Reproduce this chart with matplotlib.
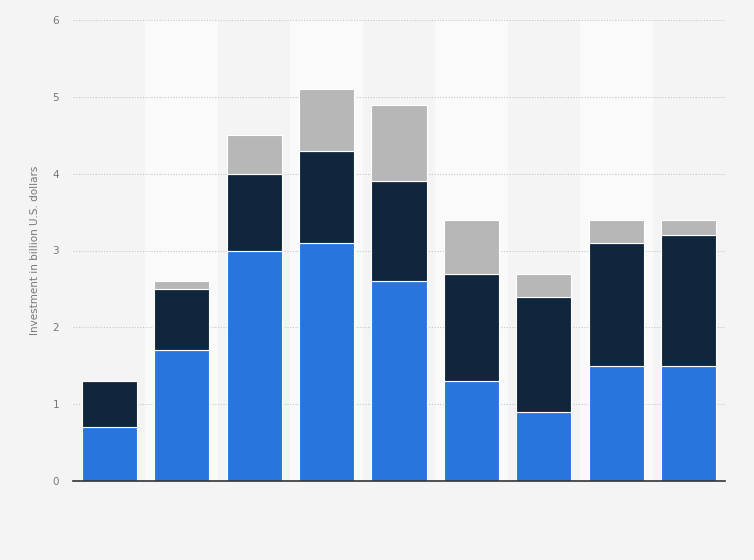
import matplotlib.pyplot as plt
import numpy as np

# values in billion U.S. dollars
years = ["", "", "", "", "", "", "", "", ""]
series_a = [0.7, 1.7, 3.0, 3.1, 2.6, 1.3, 0.9, 1.5, 1.5]
series_b = [0.6, 0.8, 1.0, 1.2, 1.3, 1.4, 1.5, 1.6, 1.7]
series_c = [0.0, 0.1, 0.5, 0.8, 1.0, 0.7, 0.3, 0.3, 0.2]

colors = ["#2876dd", "#10263d", "#b7b7b7"]

fig = plt.figure(figsize=(7.54, 5.6), dpi=100)
fig.patch.set_facecolor("#f4f4f4")
ax = fig.add_axes([73 / 754, 79 / 560, 652 / 754, 461 / 560])
ax.set_facecolor("#f4f4f4")

x = np.arange(len(series_a))

# alternating column bands
for i in x:
    if i % 2 == 1:
        ax.axvspan(i - 0.5, i + 0.5, color="#fafafa", zorder=0, lw=0)

ax.yaxis.grid(True, linestyle=(0, (1, 1.5)), color="#c8c8c8", linewidth=0.8, zorder=1)

bottom = np.zeros(len(x))
for vals, col in zip([series_a, series_b, series_c], colors):
    vals = np.array(vals)
    ax.bar(x, vals, width=0.76, bottom=bottom, color=col,
           edgecolor="white", linewidth=0.8, zorder=3)
    bottom += vals

ax.set_xlim(-0.5, len(x) - 0.5)
ax.set_ylim(0, 6)
ax.set_yticks(range(0, 7))
ax.set_xticks(x)
ax.set_xticklabels(years)
ax.tick_params(axis="x", length=0)
ax.tick_params(axis="y", length=0, labelsize=7.5, labelcolor="#777777", pad=10)

for side in ["top", "right", "left"]:
    ax.spines[side].set_visible(False)
ax.spines["bottom"].set_color("#333333")
ax.spines["bottom"].set_linewidth(1.2)
ax.spines["bottom"].set_zorder(4)

ax.set_ylabel("Investment in billion U.S. dollars", fontsize=7.5, color="#777777", labelpad=9)

fig.savefig("out.png", dpi=100, facecolor=fig.get_facecolor())
